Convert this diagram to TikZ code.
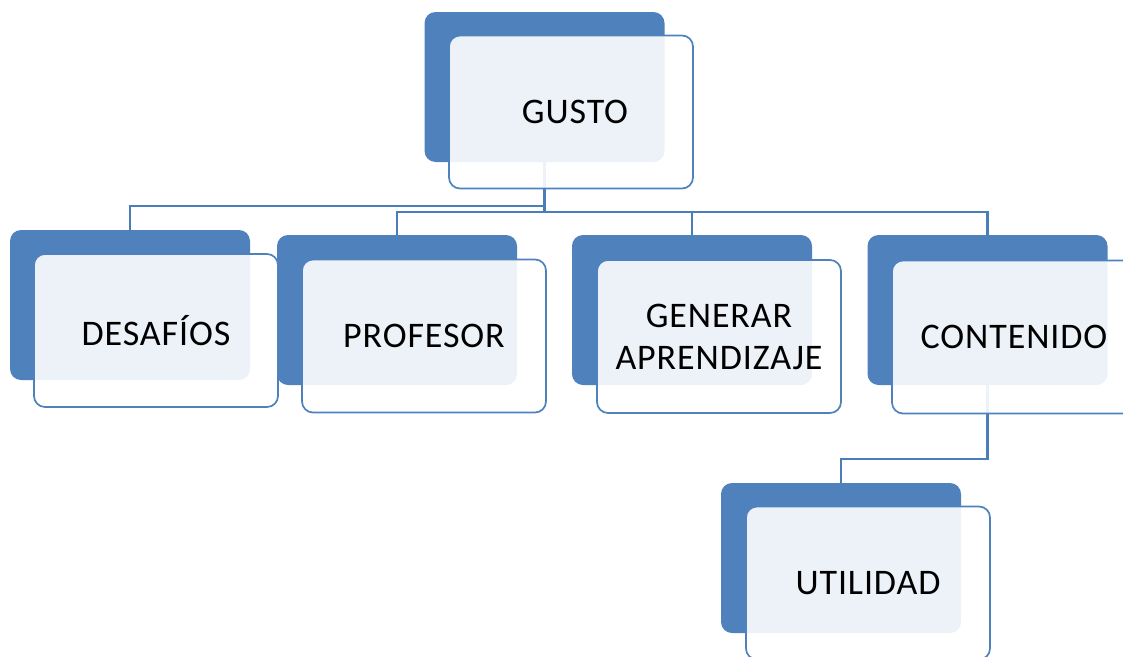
\documentclass[tikz,border=0pt]{standalone}
\usepackage{fontspec}
\setmainfont{Carlito}[LetterSpace=2.5]
\definecolor{accblue}{HTML}{4F81BD}
\definecolor{linkblue}{HTML}{4A7EBB}
\tikzset{
  backbox/.style={fill=accblue, draw=none, rounded corners=11pt, minimum width=240pt, minimum height=150pt, inner sep=0pt},
  frontbox/.style={fill=white, fill opacity=0.9, text opacity=1, draw=accblue, line width=1.7pt, rounded corners=11pt, minimum width=244pt, minimum height=153pt, inner sep=0pt, align=center, font=\fontsize{36}{42}\selectfont, text=black},
  link/.style={draw=linkblue, line width=2.5pt}
}
\begin{document}
\begin{tikzpicture}[x=1pt,y=-1pt]
\useasboundingbox (0,0) rectangle (1123,656);
\clip (0,0) rectangle (1123,656);
% back boxes
\node[backbox] (gustoB) at (544.5,87) {};
\node[backbox] (desB) at (130,305) {};
\node[backbox] (profB) at (397,310) {};
\node[backbox] (genB) at (692,310) {};
\node[backbox] (contB) at (987.5,310) {};
\node[backbox] (utilB) at (841,558) {};
% connectors
\draw[link] (gustoB.south) |- ++(0,44) coordinate (busL) -| (desB.north);
\draw[link] (gustoB.south) -- ++(0,50) coordinate (bus) -| (profB.north);
\draw[link] (bus) -| (genB.north);
\draw[link] (bus) -| (contB.north);
\draw[link] (contB.south) -- ++(0,74) -| (utilB.north);
% front boxes
\node[frontbox] (gusto) at (571,112) {\hspace*{8pt}GUSTO};
\node[frontbox] (des) at (156,330.5) {DESAFÍOS};
\node[frontbox] (prof) at (424,336) {PROFESOR};
\node[frontbox] (gen) at (719,336.5) {GENERAR\\APRENDIZAJE};
\node[frontbox] (cont) at (1014,337) {CONTENIDO};
\node[frontbox] (util) at (868,583) {UTILIDAD};
\end{tikzpicture}
\end{document}
